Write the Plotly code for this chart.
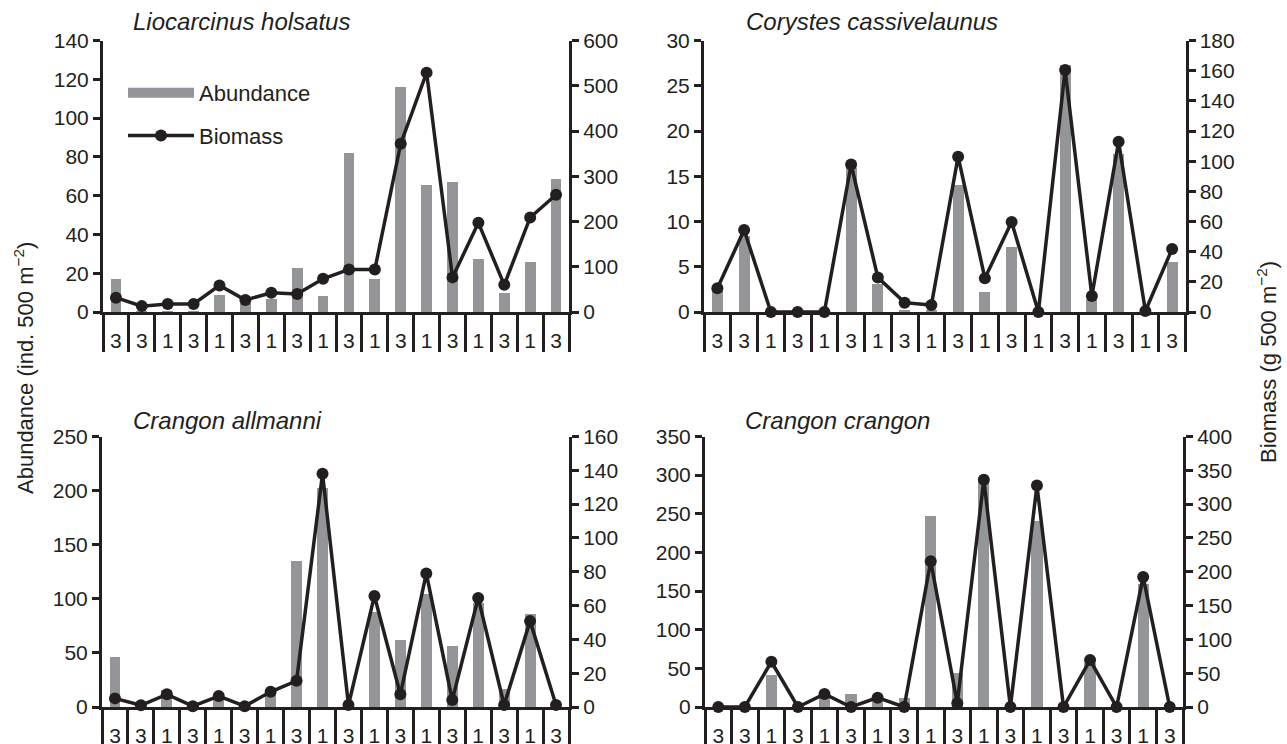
import plotly.graph_objects as go

# ---------------- data ----------------
site_labels = ["3", "3", "1", "3", "1", "3", "1", "3", "1",
               "3", "1", "3", "1", "3", "1", "3", "1", "3"]

species = ["Liocarcinus holsatus", "Corystes cassivelaunus",
           "Crangon allmanni", "Crangon crangon"]

abund_lholsatus = [17.5, 1, 1, 1, 9.2, 5, 7, 23.2, 8.6, 82, 17.5, 116.4, 65.7, 67.4, 27.5, 10, 26.3, 68.6]
biom_lholsatus = [31.6, 13, 17.6, 17.6, 58.8, 26.5, 42.6, 39.7, 73.5, 94, 94, 372, 529, 76.5, 197, 60, 209, 259]

abund_ccassiv = [3, 8.5, 0, 0, 0, 16, 3.1, 0.3, 0.3, 14.1, 2.25, 7.2, 0, 27.4, 1.5, 17.5, 0, 5.6]
biom_ccassiv = [15.7, 54.4, 0, 0, 0, 97.8, 22.8, 6.2, 4.6, 103, 22.4, 59.6, 0, 160.5, 10.6, 112.9, 0.7, 41.8]

abund_callmanni = [46.4, 1, 16, 3, 8, 4, 16, 135, 203, 0, 88, 62.4, 105, 57, 97, 17.2, 86.4, 0.5]
biom_callmanni = [5.1, 1, 7.5, 0.5, 6.5, 0.5, 9, 15.5, 138, 1.2, 65.7, 7.5, 79, 4.1, 64.5, 1.2, 50.8, 1.2]

abund_ccrangon = [0, 0, 42.6, 0, 12, 17.7, 8, 12.5, 248, 44.8, 292, 0, 241.6, 0, 58, 0, 160, 0]
biom_ccrangon = [0, 0, 66.9, 0, 19.2, 0, 13.8, 0, 215.5, 5.4, 336, 0, 327.7, 0, 69.4, 0, 192.4, 0]

abundances = [abund_lholsatus, abund_ccassiv, abund_callmanni, abund_ccrangon]
biomasses = [biom_lholsatus, biom_ccassiv, biom_callmanni, biom_ccrangon]

# axis settings (layout)
left_ranges = [[0, 140], [0, 30], [0, 250], [0, 350]]
left_dticks = [20, 5, 50, 50]
right_ranges = [[0, 600], [0, 180], [0, 160], [0, 400]]
right_dticks = [100, 20, 20, 50]

W, H = 1287, 744
x_domains = [[103 / W, 569 / W], [704 / W, 1185.5 / W],
             [102 / W, 569 / W], [705 / W, 1183 / W]]
top_dom = [1 - 312 / H, 1 - 40.5 / H]
bot_dom = [1 - 707 / H, 1 - 436.5 / H]
y_domains = [top_dom, top_dom, bot_dom, bot_dom]
title_pos = [(131, 22), (744, 22), (131, 420), (743, 420)]

GRAY = "#939598"
BLACK = "#231f20"
FONT = "Liberation Sans, Arial, Helvetica, sans-serif"
TICK_SIZE = 21

fig = go.Figure()

n = len(site_labels)
xs = list(range(n))

# legend-only proxy for abundance (wide grey bar symbol)
fig.add_trace(go.Scatter(x=[None], y=[None], mode="lines", name="Abundance",
                         line=dict(color=GRAY, width=10), legendgroup="a",
                         xaxis="x", yaxis="y"))

layout_axes = {}
for i in range(4):
    xa = "x" if i == 0 else f"x{i + 1}"
    yl_id = 2 * i + 1
    yr_id = 2 * i + 2
    yl = "y" if yl_id == 1 else f"y{yl_id}"
    yr = f"y{yr_id}"

    fig.add_trace(go.Bar(x=xs, y=abundances[i], xaxis=xa, yaxis=yl,
                         marker=dict(color=GRAY, line=dict(width=0)),
                         width=0.42, showlegend=False, name="Abundance"))
    fig.add_trace(go.Scatter(x=xs, y=biomasses[i], xaxis=xa, yaxis=yr,
                             mode="lines+markers", name="Biomass",
                             line=dict(color=BLACK, width=3.5),
                             marker=dict(color=BLACK, size=12),
                             cliponaxis=False, legendgroup="b",
                             showlegend=(i == 0)))

    xkey = "xaxis" if i == 0 else f"xaxis{i + 1}"
    layout_axes[xkey] = dict(
        domain=x_domains[i], range=[-0.5, n - 0.5], anchor=yl,
        showline=True, linecolor=BLACK, linewidth=3,
        tickmode="array", tickvals=xs, ticktext=site_labels,
        ticks="outside", ticklen=8, tickcolor="rgba(0,0,0,0)",
        tickfont=dict(size=TICK_SIZE, color=BLACK, family=FONT),
        minor=dict(tickmode="array", tickvals=[k - 0.5 for k in range(n + 1)],
                   ticks="outside", ticklen=37, tickwidth=2.5, tickcolor=BLACK,
                   showgrid=False),
        showgrid=False, zeroline=False, automargin=False, fixedrange=True)

    ylkey = "yaxis" if yl_id == 1 else f"yaxis{yl_id}"
    layout_axes[ylkey] = dict(
        domain=y_domains[i], range=left_ranges[i], dtick=left_dticks[i],
        anchor=xa, side="left", showline=True, linecolor=BLACK, linewidth=3,
        ticks="outside", ticklen=7, tickwidth=2.5, tickcolor=BLACK,
        tickfont=dict(size=TICK_SIZE, color=BLACK, family=FONT),
        showgrid=False, zeroline=False, automargin=False, fixedrange=True)

    layout_axes[f"yaxis{yr_id}"] = dict(
        domain=y_domains[i], range=right_ranges[i], dtick=right_dticks[i],
        anchor=xa, overlaying=yl, side="right", showline=True,
        linecolor=BLACK, linewidth=3,
        ticks="outside", ticklen=7, tickwidth=2.5, tickcolor=BLACK,
        tickfont=dict(size=TICK_SIZE, color=BLACK, family=FONT),
        showgrid=False, zeroline=False, automargin=False, fixedrange=True)

annotations = []
for i, name in enumerate(species):
    px, py = title_pos[i]
    annotations.append(dict(text=f"<i>{name}</i>", x=px / W, y=1 - py / H,
                            xref="paper", yref="paper", xanchor="left",
                            yanchor="middle", showarrow=False,
                            font=dict(size=24, color=BLACK, family=FONT)))

annotations.append(dict(text="Abundance (ind. 500 m<sup>−2</sup>)",
                        x=24 / W, y=1 - 368 / H, xref="paper", yref="paper",
                        textangle=-90, showarrow=False, xanchor="center",
                        yanchor="middle",
                        font=dict(size=22, color=BLACK, family=FONT)))
annotations.append(dict(text="Biomass (g 500 m<sup>−2</sup>)",
                        x=1267 / W, y=1 - 362 / H, xref="paper", yref="paper",
                        textangle=-90, showarrow=False, xanchor="center",
                        yanchor="middle",
                        font=dict(size=22, color=BLACK, family=FONT)))

fig.update_layout(
    width=W, height=H, template="none",
    margin=dict(l=0, r=0, t=0, b=0, pad=0),
    paper_bgcolor="white", plot_bgcolor="rgba(0,0,0,0)",
    font=dict(family=FONT, color=BLACK, size=TICK_SIZE),
    bargap=0, showlegend=True,
    legend=dict(x=123 / W, y=1 - 72 / H, xanchor="left", yanchor="top",
                bgcolor="rgba(0,0,0,0)", borderwidth=0,
                font=dict(size=22, color=BLACK, family=FONT),
                traceorder="grouped", tracegroupgap=11, itemwidth=66),
    annotations=annotations,
    **layout_axes,
)

fig.write_html("out.html",
               config={"displayModeBar": False},
               post_script="document.body.style.margin='0';"
                           "document.body.style.overflow='hidden';")
